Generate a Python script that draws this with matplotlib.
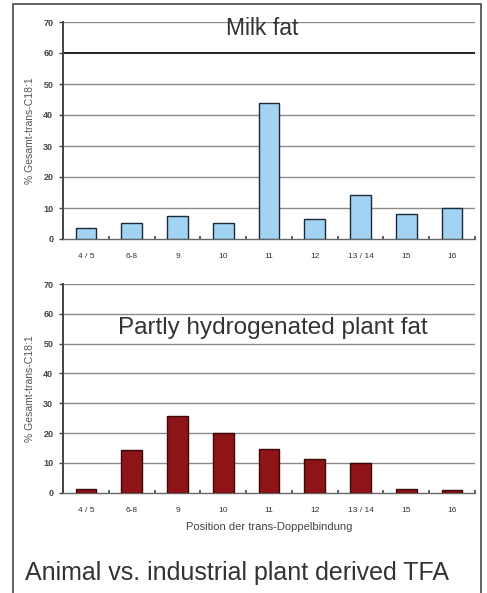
import matplotlib
matplotlib.use("Agg")
import matplotlib.pyplot as plt
from matplotlib.patches import Rectangle
import numpy as np

plt.rcParams['font.family'] = ['Liberation Sans', 'DejaVu Sans']

categories = ["4 / 5", "6-8", "9", "10", "11", "12", "13 / 14", "15", "16"]
milk_fat = [3.4, 5.1, 7.4, 5.1, 43.8, 6.3, 14.2, 8.1, 9.9]
plant_fat = [1.2, 14.3, 25.7, 19.9, 14.6, 11.2, 9.8, 1.4, 0.8]
yticks = [0, 10, 20, 30, 40, 50, 60, 70]

fig = plt.figure(figsize=(4.87, 5.93), dpi=100)
fig.patch.set_facecolor("white")

# outer frame
fig.add_artist(Rectangle((13/487, -0.02), (481-13)/487, (593-4)/593 + 0.02,
                         transform=fig.transFigure, fill=False,
                         edgecolor="#555555", linewidth=1.3))

ax1 = fig.add_axes([63/487, (593-239)/593, (475-63)/487, (239-22)/593])
ax2 = fig.add_axes([63/487, (593-492.7)/593, (475-63)/487, (492.7-284)/593])

x = np.arange(len(categories))

def style(ax, values, color, edge, title, title_x, title_y, title_size, darkline=None):
    ax.set_xlim(-0.5, len(categories) - 0.5)
    ax.set_ylim(0, 70)
    ax.set_yticks(yticks)
    ax.set_yticklabels([str(t) for t in yticks], fontsize=6.5, fontweight="bold", color="#444444")
    for t in yticks[1:]:
        lc = "#8a8a8a"
        lw = 1.0
        if darkline is not None and t == darkline:
            lc = "#111111"
            lw = 1.3
        ax.axhline(t, color=lc, linewidth=lw, zorder=0)
    ax.bar(x, values, width=0.45, color=color, edgecolor=edge, linewidth=1.0, zorder=3)
    ax.set_xticks(x)
    ax.set_xticklabels(categories, fontsize=6, color="#333333")
    ax.set_xticks(np.arange(-0.5, len(categories) + 0.5, 1), minor=True)
    ax.tick_params(axis="x", which="major", length=0, pad=10)
    ax.tick_params(axis="x", which="minor", length=2, width=1.2, color="#444444", direction="in")
    ax.tick_params(axis="y", length=3, width=1, color="#444444", pad=4)
    for s in ["top", "right"]:
        ax.spines[s].set_visible(False)
    ax.spines["left"].set_color("#444444")
    ax.spines["left"].set_linewidth(1.4)
    ax.spines["bottom"].set_color("#666666")
    ax.spines["bottom"].set_linewidth(1.0)
    ax.set_ylabel("% Gesamt-trans-C18:1", fontsize=7.5, color="#555555", labelpad=6)
    ax.text(title_x, title_y, title, transform=ax.transAxes, ha="center", va="center",
            fontsize=title_size, color="#333333")
    ax.set_facecolor("white")

style(ax1, milk_fat, "#a3d3f2", "#1a2a3a", "Milk fat", 0.484, 0.97, 16.5, darkline=60)
style(ax2, plant_fat, "#8e1418", "#3a0808", "Partly hydrogenated plant fat", 0.51, 0.79, 17.5)

ax2.set_xlabel("Position der trans-Doppelbindung", fontsize=8, color="#444444", labelpad=6)

fig.text(25/487, (593-573)/593, "Animal vs. industrial plant derived TFA",
         fontsize=18, color="#333333", ha="left", va="center")

fig.savefig("out.png", dpi=100)
